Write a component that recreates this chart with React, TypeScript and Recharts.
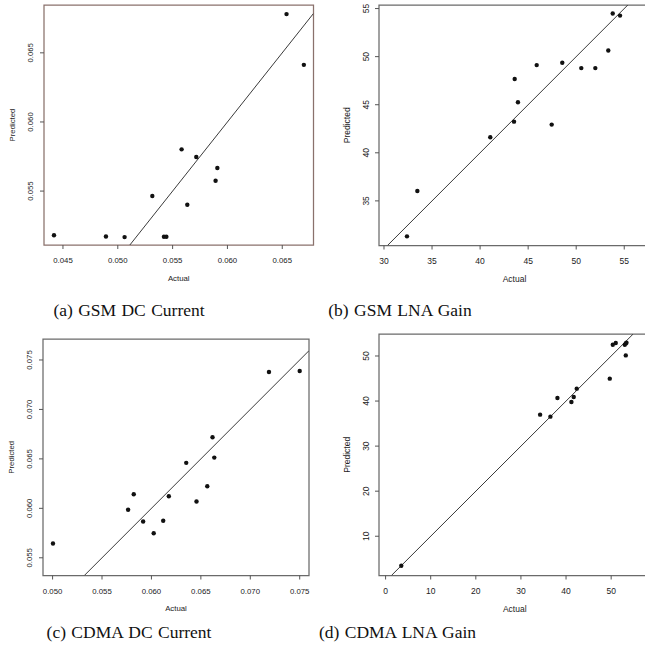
import React from "react"
import { ScatterChart, Scatter, XAxis, YAxis, ReferenceLine, ReferenceArea } from "recharts"

const gsmDcActual = [0.04418, 0.04892, 0.05062, 0.05421, 0.05443, 0.05315, 0.05582, 0.05634, 0.05716, 0.05892, 0.05908, 0.06539, 0.06697]
const gsmDcPredicted = [0.05181, 0.05172, 0.05167, 0.0517, 0.0517, 0.05464, 0.05802, 0.05401, 0.05746, 0.05575, 0.05667, 0.0678, 0.06413]

const gsmGainActual = [32.39, 33.47, 41.06, 43.53, 43.6, 43.94, 45.89, 47.45, 48.55, 50.53, 51.99, 53.34, 53.8, 54.56]
const gsmGainPredicted = [31.31, 36.02, 41.62, 43.24, 47.67, 45.25, 49.12, 42.93, 49.36, 48.81, 48.81, 50.64, 54.48, 54.27]

const cdmaDcActual = [0.05004, 0.05764, 0.05821, 0.05916, 0.06023, 0.06119, 0.06176, 0.06352, 0.06456, 0.06565, 0.06618, 0.06636, 0.07189, 0.075]
const cdmaDcPredicted = [0.05644, 0.05985, 0.06142, 0.05867, 0.05748, 0.05874, 0.06122, 0.0646, 0.06069, 0.06223, 0.06718, 0.06513, 0.07379, 0.07389]

const cdmaGainActual = [3.48, 34.25, 36.53, 38.09, 41.19, 41.7, 42.37, 49.69, 50.36, 51.02, 53.02, 53.24, 53.39, 53.24]
const cdmaGainPredicted = [3.44, 36.98, 36.54, 40.69, 39.8, 40.91, 42.75, 44.97, 52.51, 52.88, 52.51, 52.79, 52.95, 50.13]

const gsmDcXTicks = [0.045, 0.05, 0.055, 0.06, 0.065]
const gsmDcYTicks = [0.055, 0.06, 0.065]
const gsmGainXTicks = [30, 35, 40, 45, 50, 55]
const gsmGainYTicks = [35, 40, 45, 50, 55]
const cdmaDcXTicks = [0.05, 0.055, 0.06, 0.065, 0.07, 0.075]
const cdmaDcYTicks = [0.055, 0.06, 0.065, 0.07, 0.075]
const cdmaGainXTicks = [0, 10, 20, 30, 40, 50]
const cdmaGainYTicks = [10, 20, 30, 40, 50]

const captions = ["(a) GSM DC Current", "(b) GSM LNA Gain", "(c) CDMA DC Current", "(d) CDMA LNA Gain"]

const SANS = '"Liberation Sans", Arial, Helvetica, sans-serif'
const ML = 60
const MT = 10

const fmt3 = (v: number) => v.toFixed(3)
const fmt0 = (v: number) => String(v)

const panels = [
  {
    box: { left: 43.5, top: 5, right: 313, bottom: 245 },
    xDomain: [0.04327, 0.06785], yDomain: [0.0511, 0.06846],
    xTicks: gsmDcXTicks, yTicks: gsmDcYTicks, fmt: fmt3,
    actual: gsmDcActual, predicted: gsmDcPredicted,
    fs: 7.8, frame: "#8a716c",
  },
  {
    box: { left: 379, top: 5, right: 650, bottom: 245.5 },
    xDomain: [29.48, 57.68], yDomain: [30.36, 55.37],
    xTicks: gsmGainXTicks, yTicks: gsmGainYTicks, fmt: fmt0,
    actual: gsmGainActual, predicted: gsmGainPredicted,
    fs: 8.5, frame: "#6a6a6a",
  },
  {
    box: { left: 42.5, top: 338.5, right: 308.5, bottom: 575 },
    xDomain: [0.04903, 0.07594], yDomain: [0.05321, 0.07712],
    xTicks: cdmaDcXTicks, yTicks: cdmaDcYTicks, fmt: fmt3,
    actual: cdmaDcActual, predicted: cdmaDcPredicted,
    fs: 7.8, frame: "#6a6a6a",
  },
  {
    box: { left: 378.5, top: 333.5, right: 650, bottom: 575 },
    xDomain: [-1.46, 58.72], yDomain: [1.29, 54.88],
    xTicks: cdmaGainXTicks, yTicks: cdmaGainYTicks, fmt: fmt0,
    actual: cdmaGainActual, predicted: cdmaGainPredicted,
    fs: 8.5, frame: "#6a6a6a",
  },
]

function Panel({ p }: { p: any }) {
  const w = p.box.right - p.box.left
  const h = p.box.bottom - p.box.top
  const data = p.actual.map((a: number, i: number) => ({ x: a, y: p.predicted[i] }))
  const lo = Math.max(p.xDomain[0], p.yDomain[0])
  const hi = Math.min(p.xDomain[1], p.yDomain[1])
  const textStyle = { fontFamily: SANS, fontSize: p.fs, fill: "#222" }

  return (
    <div style={{ position: "absolute", left: p.box.left - ML, top: p.box.top - MT }}>
      <ScatterChart width={w + ML + 10} height={h + MT + 50} margin={{ top: MT, right: 10, bottom: 0, left: 0 }}>
        <XAxis
          type="number"
          dataKey="x"
          domain={p.xDomain}
          allowDataOverflow
          ticks={p.xTicks}
          interval={0}
          height={50}
          tickSize={4}
          axisLine={false}
          tickLine={{ stroke: "#555" }}
          tick={(t: any) => (
            <text x={t.x} y={MT + h + 15.5} textAnchor="middle" dominantBaseline="central" style={textStyle}>
              {p.fmt(t.payload.value)}
            </text>
          )}
          label={{
            content: () => (
              <text x={ML + w / 2} y={MT + h + 33} textAnchor="middle" dominantBaseline="central" style={textStyle}>
                Actual
              </text>
            ),
          }}
        />
        <YAxis
          type="number"
          dataKey="y"
          domain={p.yDomain}
          allowDataOverflow
          ticks={p.yTicks}
          interval={0}
          width={ML}
          tickSize={4}
          axisLine={false}
          tickLine={{ stroke: "#555" }}
          tick={(t: any) => (
            <text
              x={ML - 13}
              y={t.y}
              textAnchor="middle"
              dominantBaseline="central"
              transform={`rotate(-90, ${ML - 13}, ${t.y})`}
              style={textStyle}
            >
              {p.fmt(t.payload.value)}
            </text>
          )}
          label={{
            content: () => (
              <text
                x={ML - 32}
                y={MT + h / 2}
                textAnchor="middle"
                dominantBaseline="central"
                transform={`rotate(-90, ${ML - 32}, ${MT + h / 2})`}
                style={textStyle}
              >
                Predicted
              </text>
            ),
          }}
        />
        <ReferenceArea
          x1={p.xDomain[0]}
          x2={p.xDomain[1]}
          y1={p.yDomain[0]}
          y2={p.yDomain[1]}
          fill="none"
          stroke={p.frame}
          strokeWidth={1.25}
          ifOverflow="visible"
        />
        <ReferenceLine
          segment={[{ x: lo, y: lo }, { x: hi, y: hi }]}
          stroke="#3a3a3a"
          strokeWidth={1}
          ifOverflow="hidden"
        />
        <Scatter
          data={data}
          isAnimationActive={false}
          shape={(s: any) => <circle cx={s.cx} cy={s.cy} r={2.2} fill="#111" />}
        />
      </ScatterChart>
    </div>
  )
}

const captionPos = [
  { x: 129, y: 310 },
  { x: 400, y: 310 },
  { x: 129, y: 631.5 },
  { x: 397.5, y: 631.5 },
]

export default function App() {
  return (
    <div style={{ position: "absolute", left: 0, top: 0, width: 645, height: 652, overflow: "hidden", background: "#fff" }}>
      {panels.map((p, i) => (
        <Panel key={i} p={p} />
      ))}
      {captions.map((c, i) => (
        <div
          key={c}
          style={{
            position: "absolute",
            left: captionPos[i].x - 120,
            top: captionPos[i].y - 12,
            width: 240,
            height: 24,
            lineHeight: "24px",
            textAlign: "center",
            fontFamily: '"Liberation Serif", "Times New Roman", serif',
            fontSize: 17.5,
            color: "#111",
            wordSpacing: 1,
          }}
        >
          {c}
        </div>
      ))}
    </div>
  )
}
